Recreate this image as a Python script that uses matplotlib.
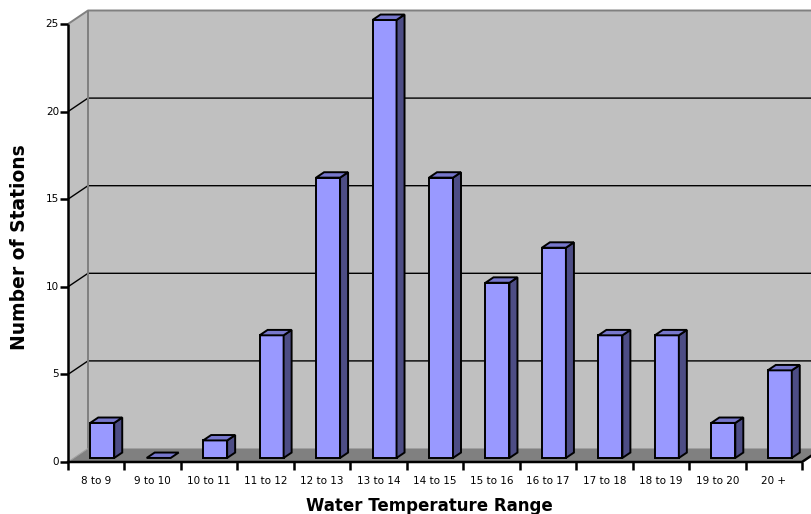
import matplotlib
matplotlib.use("Agg")
import matplotlib.pyplot as plt
from matplotlib.patches import Polygon
from matplotlib.lines import Line2D
from matplotlib.transforms import IdentityTransform
import numpy as np

categories = ["8 to 9", "9 to 10", "10 to 11", "11 to 12", "12 to 13", "13 to 14",
              "14 to 15", "15 to 16", "16 to 17", "17 to 18", "18 to 19", "19 to 20", "20 +"]
counts = [2, 0, 1, 7, 16, 25, 16, 10, 12, 7, 7, 2, 5]
y_ticks = [0, 5, 10, 15, 20, 25]
x_title = "Water Temperature Range"
y_title = "Number of Stations"

W, H = 811, 514
fig = plt.figure(figsize=(W / 100, H / 100), dpi=100)
fig.patch.set_facecolor("white")
ax = fig.add_axes([68 / W, (H - 462) / H, (802 - 68) / W, (462 - 24) / H])
n = len(categories)
ax.set_xlim(-0.5, n - 0.5)
ax.set_ylim(0, 25)
ax.axis("off")

DX, DY = 20.0, 13.5  # full depth offset in pixels
ID = IdentityTransform()


def P(x, y, d=0.0):
    px, py = ax.transData.transform((x, y))
    return (px + DX * d, py + DY * d)


def poly(pts, fc, ec="none", lw=0.0, z=1):
    p = Polygon(pts, closed=True, facecolor=fc, edgecolor=ec, linewidth=lw,
                transform=ID, clip_on=False, zorder=z, joinstyle="miter")
    ax.add_patch(p)


def line(pts, color, lw, z=2):
    xs = [p[0] for p in pts]
    ys = [p[1] for p in pts]
    l = Line2D(xs, ys, color=color, linewidth=lw, transform=ID, clip_on=False,
               zorder=z, solid_capstyle="butt")
    ax.add_line(l)


x0, x1 = -0.5, n - 0.5
ymax = y_ticks[-1]

# walls and floor
poly([P(x0, 0, 1), P(x1 + 2, 0, 1), P(x1 + 2, ymax, 1), P(x0, ymax, 1)], "#c0c0c0", z=1)
poly([P(x0, 0, 0), P(x0, 0, 1), P(x0, ymax, 1), P(x0, ymax, 0)], "#c0c0c0", z=1)
poly([P(x0, 0, 0), P(x1, 0, 0), P(x1, 0, 1), P(x0, 0, 1)], "#808080", z=1.1)

# gridlines
for v in y_ticks[1:-1]:
    line([P(x0, v, 0), P(x0, v, 1), P(x1 + 2, v, 1)], "black", 1.0, z=1.5)
# wall borders
line([P(x0, ymax, 0), P(x0, ymax, 1), P(x1 + 2, ymax, 1)], "#808080", 1.4, z=1.6)
line([P(x0, 0, 1), P(x0, ymax, 1)], "#808080", 1.4, z=1.6)
line([P(x0, 0, 0), P(x0, 0, 1)], "#a0a0a0", 0.8, z=1.6)

# bars
FRONT, SIDE, TOP = "#9999ff", "#4d4d85", "#7777cc"
f0, f1, hw = 0.3, 0.7, 0.2125
for i, v in enumerate(counts):
    a, b = i - hw, i + hw
    if v > 0:
        poly([P(a, 0, f0), P(b, 0, f0), P(b, v, f0), P(a, v, f0)], FRONT, "black", 1.4, z=3)
        poly([P(b, 0, f0), P(b, 0, f1), P(b, v, f1), P(b, v, f0)], SIDE, "black", 1.4, z=3)
    poly([P(a, v, f0), P(b, v, f0), P(b, v, f1), P(a, v, f1)], TOP, "black", 1.4, z=3)

# axes lines
line([P(x0, 0, 0), P(x0, ymax, 0)], "black", 1.8, z=4)
line([P(x0 - 0.02, 0, 0), P(x1, 0, 0), P(x1, 0, 1.0)], "black", 1.8, z=4)

# y ticks
for v in y_ticks:
    px, py = P(x0, v, 0)
    line([(px - 8, py), (px, py)], "black", 1.8, z=4)
    ax.annotate(str(v), (x0, v), xytext=(-9, 0), textcoords="offset pixels",
                ha="right", va="center", fontsize=7.5, family="DejaVu Sans",
                annotation_clip=False)

# x ticks
for k in range(n + 1):
    px, py = P(x0 + k, 0, 0)
    line([(px, py), (px, py - 8)], "black", 1.8, z=4)
for i, c in enumerate(categories):
    ax.annotate(c, (i, 0), xytext=(0, -19), textcoords="offset pixels",
                ha="center", va="center", fontsize=7.5, family="DejaVu Sans",
                annotation_clip=False)

fig.text(429.5 / W, 1 - 506 / H, x_title, ha="center", va="center",
         fontsize=12, fontweight="bold", family="DejaVu Sans")
fig.text(20 / W, 1 - 247 / H, y_title, ha="center", va="center", rotation=90,
         fontsize=13.5, fontweight="bold", family="DejaVu Sans")

fig.savefig("out.png", dpi=100, facecolor="white")
